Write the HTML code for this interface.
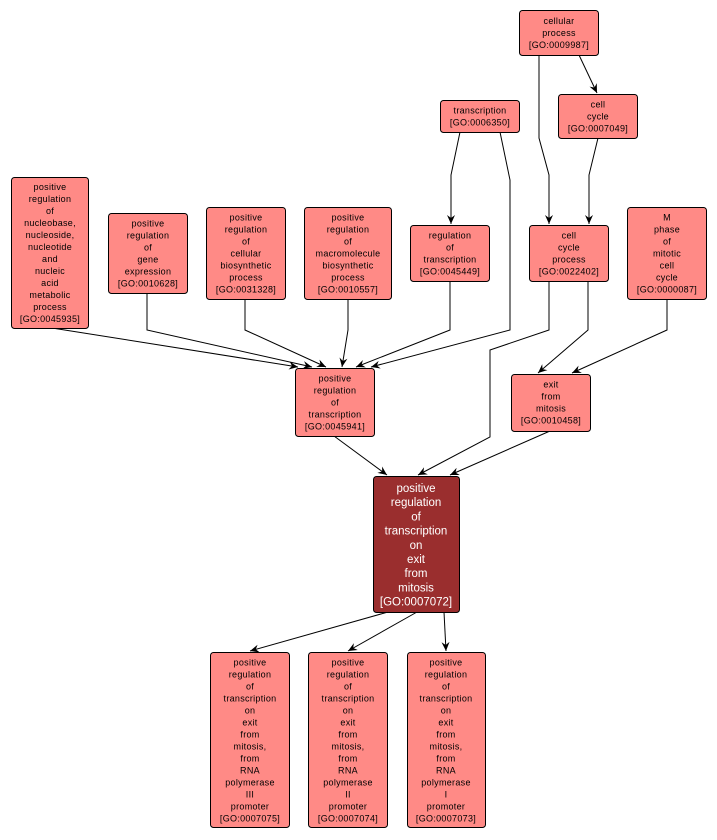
<!DOCTYPE html>
<html><head><meta charset="utf-8"><style>
html,body{margin:0;padding:0;background:#fff;}
svg{display:block;font-family:"Liberation Sans",Arial,sans-serif;}
.n{fill:#ff8a86;stroke:#000;stroke-width:1;}
.t{font-size:9px;text-anchor:middle;fill:#000;letter-spacing:0.3px;}
.m{font-size:11.5px;text-anchor:middle;fill:#fff;}
.e{fill:none;stroke:#000;stroke-width:1;}
</style></head><body>
<svg width="717" height="840" viewBox="0 0 717 840" xmlns="http://www.w3.org/2000/svg">
<defs><marker id="a" markerWidth="10" markerHeight="10" refX="9" refY="5" orient="auto" markerUnits="userSpaceOnUse"><path d="M0,1 L9,5 L0,9 L3,5 Z" fill="#000"/></marker></defs>
<g class="e" marker-end="url(#a)">
<polyline points="579,55 597,93"/>
<polyline points="539,55 539,138 549,175 549,224"/>
<polyline points="598,138 589,175 589,224"/>
<polyline points="460,132 451,175 451,224"/>
<polyline points="500,132 510,180 510,330 371,367"/>
<polyline points="52,328 298,367"/>
<polyline points="147,293 147,330 312,367"/>
<polyline points="245,299 245,330 326,367"/>
<polyline points="348,299 348,330 342,367"/>
<polyline points="450,281 450,330 356,367"/>
<polyline points="588,281 588,330 538,373"/>
<polyline points="549,281 549,330 490,350 490,437 418,475"/>
<polyline points="667,299 667,330 572,373"/>
<polyline points="334,436 387,475"/>
<polyline points="550,431 450,475"/>
<polyline points="388,612 250,651"/>
<polyline points="417,612 348,651"/>
<polyline points="444,612 446,651"/>
</g>
<rect class="n" x="519.5" y="10.5" width="79" height="45" rx="3"/>
<text class="t" x="559" y="24">cellular<tspan x="559" dy="12">process</tspan><tspan x="559" dy="12">[GO:0009987]</tspan></text>
<rect class="n" x="558.5" y="94.5" width="79" height="44" rx="3"/>
<text class="t" x="598" y="107.5">cell<tspan x="598" dy="12">cycle</tspan><tspan x="598" dy="12">[GO:0007049]</tspan></text>
<rect class="n" x="440.5" y="100.5" width="79" height="32" rx="3"/>
<text class="t" x="480" y="113.5">transcription<tspan x="480" dy="12">[GO:0006350]</tspan></text>
<rect class="n" x="11.5" y="177.5" width="77" height="151" rx="3"/>
<text class="t" x="50" y="190">positive<tspan x="50" dy="12">regulation</tspan><tspan x="50" dy="12">of</tspan><tspan x="50" dy="12">nucleobase,</tspan><tspan x="50" dy="12">nucleoside,</tspan><tspan x="50" dy="12">nucleotide</tspan><tspan x="50" dy="12">and</tspan><tspan x="50" dy="12">nucleic</tspan><tspan x="50" dy="12">acid</tspan><tspan x="50" dy="12">metabolic</tspan><tspan x="50" dy="12">process</tspan><tspan x="50" dy="12">[GO:0045935]</tspan></text>
<rect class="n" x="108.5" y="213.5" width="79" height="80" rx="3"/>
<text class="t" x="148" y="226.5">positive<tspan x="148" dy="12">regulation</tspan><tspan x="148" dy="12">of</tspan><tspan x="148" dy="12">gene</tspan><tspan x="148" dy="12">expression</tspan><tspan x="148" dy="12">[GO:0010628]</tspan></text>
<rect class="n" x="206.5" y="207.5" width="79" height="92" rx="3"/>
<text class="t" x="246" y="220.5">positive<tspan x="246" dy="12">regulation</tspan><tspan x="246" dy="12">of</tspan><tspan x="246" dy="12">cellular</tspan><tspan x="246" dy="12">biosynthetic</tspan><tspan x="246" dy="12">process</tspan><tspan x="246" dy="12">[GO:0031328]</tspan></text>
<rect class="n" x="304.5" y="207.5" width="87" height="92" rx="3"/>
<text class="t" x="348" y="220.5">positive<tspan x="348" dy="12">regulation</tspan><tspan x="348" dy="12">of</tspan><tspan x="348" dy="12">macromolecule</tspan><tspan x="348" dy="12">biosynthetic</tspan><tspan x="348" dy="12">process</tspan><tspan x="348" dy="12">[GO:0010557]</tspan></text>
<rect class="n" x="410.5" y="225.5" width="79" height="56" rx="3"/>
<text class="t" x="450" y="238.5">regulation<tspan x="450" dy="12">of</tspan><tspan x="450" dy="12">transcription</tspan><tspan x="450" dy="12">[GO:0045449]</tspan></text>
<rect class="n" x="529.5" y="225.5" width="79" height="56" rx="3"/>
<text class="t" x="569" y="238.5">cell<tspan x="569" dy="12">cycle</tspan><tspan x="569" dy="12">process</tspan><tspan x="569" dy="12">[GO:0022402]</tspan></text>
<rect class="n" x="627.5" y="207.5" width="79" height="92" rx="3"/>
<text class="t" x="667" y="220.5">M<tspan x="667" dy="12">phase</tspan><tspan x="667" dy="12">of</tspan><tspan x="667" dy="12">mitotic</tspan><tspan x="667" dy="12">cell</tspan><tspan x="667" dy="12">cycle</tspan><tspan x="667" dy="12">[GO:0000087]</tspan></text>
<rect class="n" x="295.5" y="368.5" width="79" height="68" rx="3"/>
<text class="t" x="335" y="381.5">positive<tspan x="335" dy="12">regulation</tspan><tspan x="335" dy="12">of</tspan><tspan x="335" dy="12">transcription</tspan><tspan x="335" dy="12">[GO:0045941]</tspan></text>
<rect class="n" x="511.5" y="374.5" width="79" height="57" rx="3"/>
<text class="t" x="551" y="387.5">exit<tspan x="551" dy="12">from</tspan><tspan x="551" dy="12">mitosis</tspan><tspan x="551" dy="12">[GO:0010458]</tspan></text>
<rect x="373.5" y="476.5" width="86" height="136" rx="3" fill="#9a2e2e" stroke="#000"/>
<text class="m" x="416" y="492">positive<tspan x="416" dy="14.2">regulation</tspan><tspan x="416" dy="14.2">of</tspan><tspan x="416" dy="14.2">transcription</tspan><tspan x="416" dy="14.2">on</tspan><tspan x="416" dy="14.2">exit</tspan><tspan x="416" dy="14.2">from</tspan><tspan x="416" dy="14.2">mitosis</tspan><tspan x="416" dy="14.2">[GO:0007072]</tspan></text>
<rect class="n" x="210.5" y="652.5" width="79" height="175" rx="3"/>
<text class="t" x="250" y="665.5">positive<tspan x="250" dy="12">regulation</tspan><tspan x="250" dy="12">of</tspan><tspan x="250" dy="12">transcription</tspan><tspan x="250" dy="12">on</tspan><tspan x="250" dy="12">exit</tspan><tspan x="250" dy="12">from</tspan><tspan x="250" dy="12">mitosis,</tspan><tspan x="250" dy="12">from</tspan><tspan x="250" dy="12">RNA</tspan><tspan x="250" dy="12">polymerase</tspan><tspan x="250" dy="12">III</tspan><tspan x="250" dy="12">promoter</tspan><tspan x="250" dy="12">[GO:0007075]</tspan></text>
<rect class="n" x="308.5" y="652.5" width="79" height="175" rx="3"/>
<text class="t" x="348" y="665.5">positive<tspan x="348" dy="12">regulation</tspan><tspan x="348" dy="12">of</tspan><tspan x="348" dy="12">transcription</tspan><tspan x="348" dy="12">on</tspan><tspan x="348" dy="12">exit</tspan><tspan x="348" dy="12">from</tspan><tspan x="348" dy="12">mitosis,</tspan><tspan x="348" dy="12">from</tspan><tspan x="348" dy="12">RNA</tspan><tspan x="348" dy="12">polymerase</tspan><tspan x="348" dy="12">II</tspan><tspan x="348" dy="12">promoter</tspan><tspan x="348" dy="12">[GO:0007074]</tspan></text>
<rect class="n" x="407.5" y="652.5" width="78" height="175" rx="3"/>
<text class="t" x="446" y="665.5">positive<tspan x="446" dy="12">regulation</tspan><tspan x="446" dy="12">of</tspan><tspan x="446" dy="12">transcription</tspan><tspan x="446" dy="12">on</tspan><tspan x="446" dy="12">exit</tspan><tspan x="446" dy="12">from</tspan><tspan x="446" dy="12">mitosis,</tspan><tspan x="446" dy="12">from</tspan><tspan x="446" dy="12">RNA</tspan><tspan x="446" dy="12">polymerase</tspan><tspan x="446" dy="12">I</tspan><tspan x="446" dy="12">promoter</tspan><tspan x="446" dy="12">[GO:0007073]</tspan></text>
</svg>
</body></html>
